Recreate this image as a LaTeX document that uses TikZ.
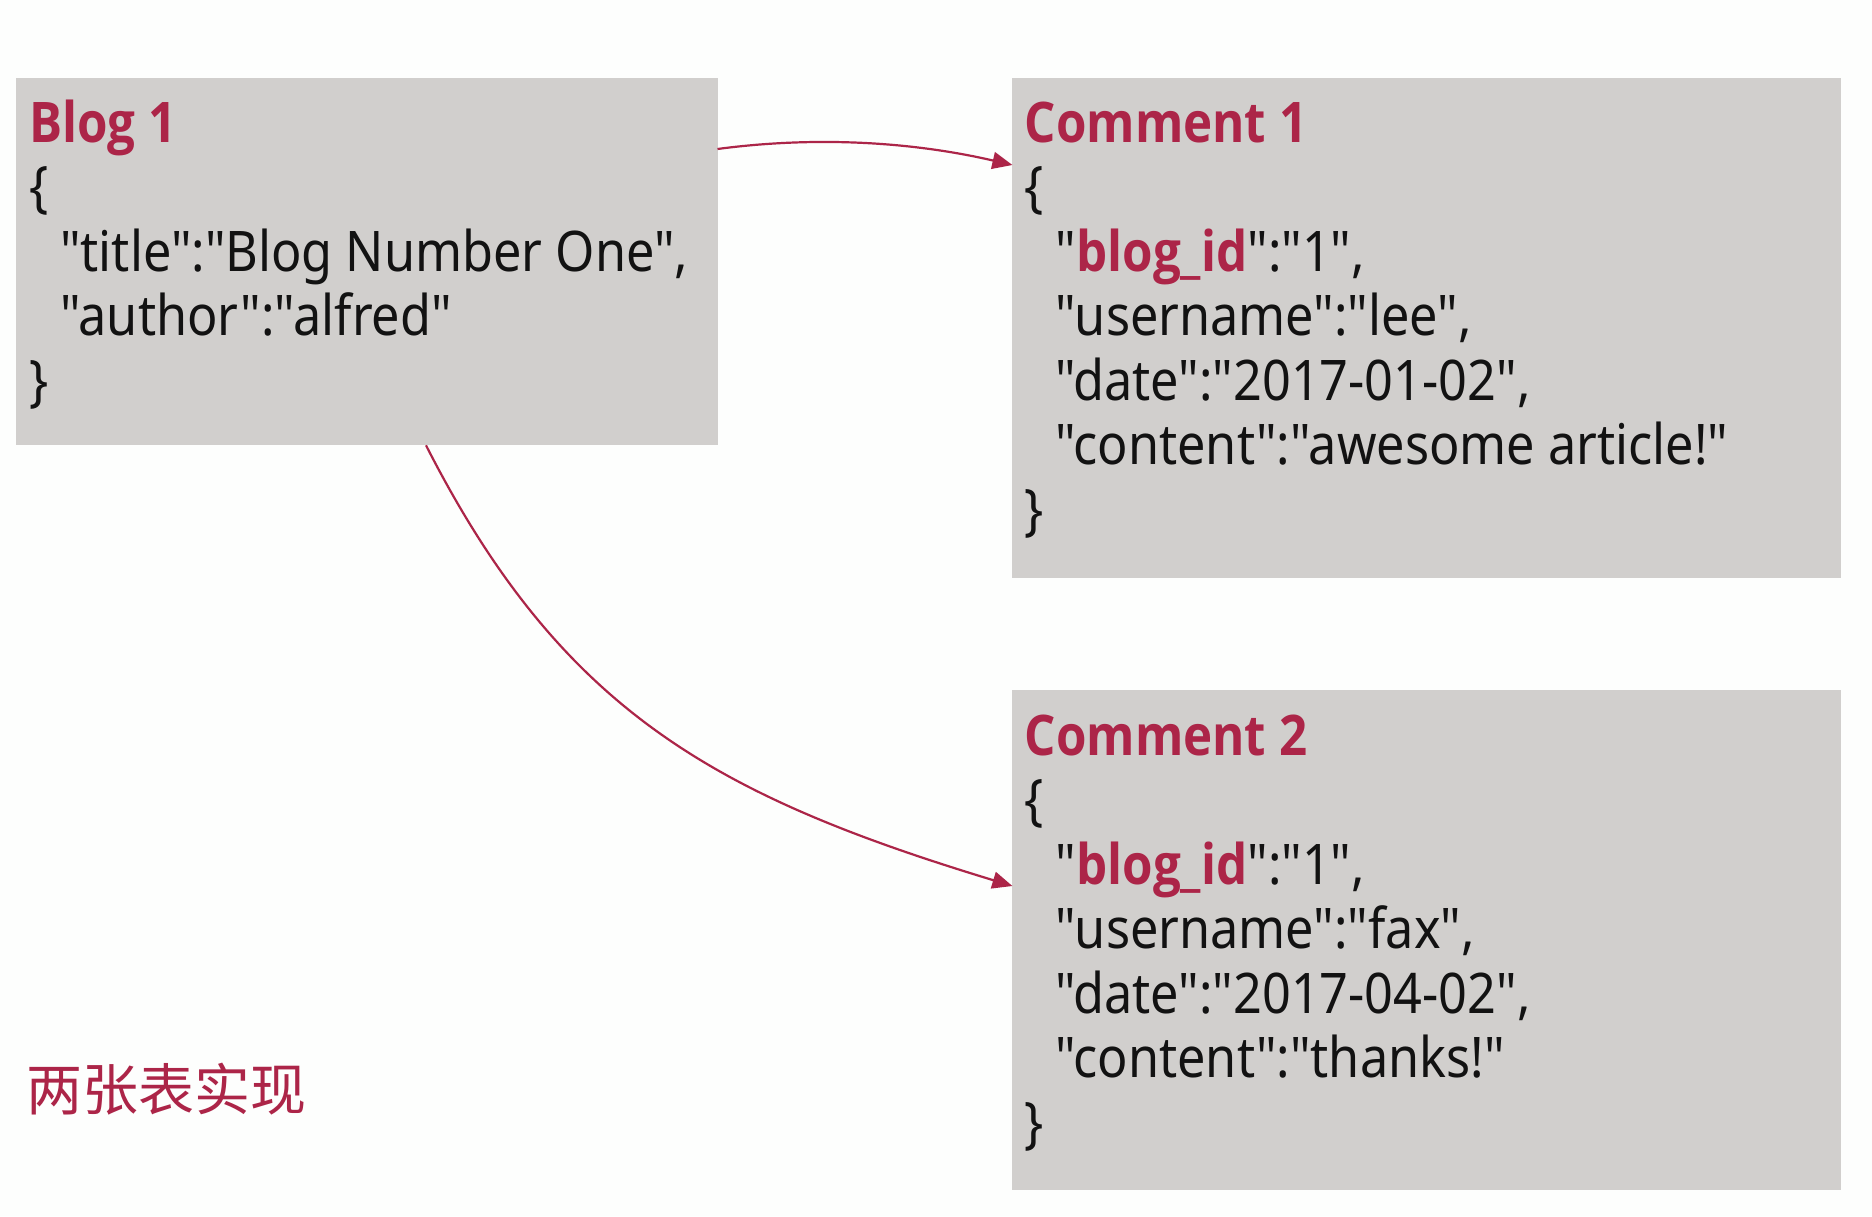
\documentclass[tikz,border=0pt]{standalone}
\usepackage{fontspec}
\setmainfont{Noto Sans}[FakeStretch=0.9, Ligatures=TeXOff]
\newfontfamily\heavy{Open Sans}[FakeStretch=0.88, Ligatures=TeXOff]
\newfontfamily\cjk{Noto Sans CJK SC}
\usetikzlibrary{arrows.meta,calc}
\definecolor{accent}{RGB}{172,37,72}
\definecolor{boxgray}{RGB}{209,207,205}
\definecolor{ink}{RGB}{18,18,18}
\definecolor{paper}{RGB}{253,254,253}
\newcommand{\key}[1]{\textcolor{accent}{\heavy\bfseries #1}}
\newcommand{\ind}{\hspace*{15.5pt}}

\begin{document}
\begin{tikzpicture}[x=0.5pt,y=-0.5pt,
  card/.style={fill=boxgray, draw=none, anchor=north west, inner sep=0pt, outer sep=0pt},
  % multi-line nodes: base anchor sits on the last line
  json/.style={anchor=base west, inner sep=0pt, align=left, text=ink,
    font=\fontsize{28}{32.25}\selectfont},
  link/.style={draw=accent, line width=1.1pt, -{Triangle[length=10pt,width=8.5pt]}},
]
\fill[paper] (0,0) rectangle (1872,1216);
\useasboundingbox (0,0) rectangle (1872,1216);

% document boxes
\node[card, minimum width=351pt, minimum height=183.85pt] (blog) at (15.5,77.6) {};
\node[card, minimum width=414.3pt, minimum height=250.1pt] (com1) at (1012.4,77.6) {};
\node[card, minimum width=414.3pt, minimum height=250pt] (com2) at (1012.4,690) {};

% contents
\node[json] (blogtext) at (28.7,400) {\key{Blog 1}\\
\{\\
\ind"title":"Blog Number One",\\
\ind"author":"alfred"\\
\}};

\node[json] (com1text) at (1024.4,529) {\key{Comment 1}\\
\{\\
\ind"\key{blog\_id}":"1",\\
\ind"username":"lee",\\
\ind"date":"2017-01-02",\\
\ind"content":"awesome article!"\\
\}};

\node[json] (com2text) at (1024.4,1142) {\key{Comment 2}\\
\{\\
\ind"\key{blog\_id}":"1",\\
\ind"username":"fax",\\
\ind"date":"2017-04-02",\\
\ind"content":"thanks!"\\
\}};

\node[anchor=base west, inner sep=0pt, text=accent, font=\cjk\fontsize{28}{32}\selectfont]
  (note) at (26,1110) {两张表实现};

% references from the blog to its comments
\draw[link] ([yshift=-35.7pt]blog.north east)
  .. controls +(90,-12) and +(-108,-25) .. ([yshift=-43.7pt]com1.north west);
\draw[link] ([xshift=205.25pt]blog.south west)
  .. controls +(136,267) and +(-296,-90) .. ([yshift=-98pt]com2.north west);
\end{tikzpicture}
\end{document}
